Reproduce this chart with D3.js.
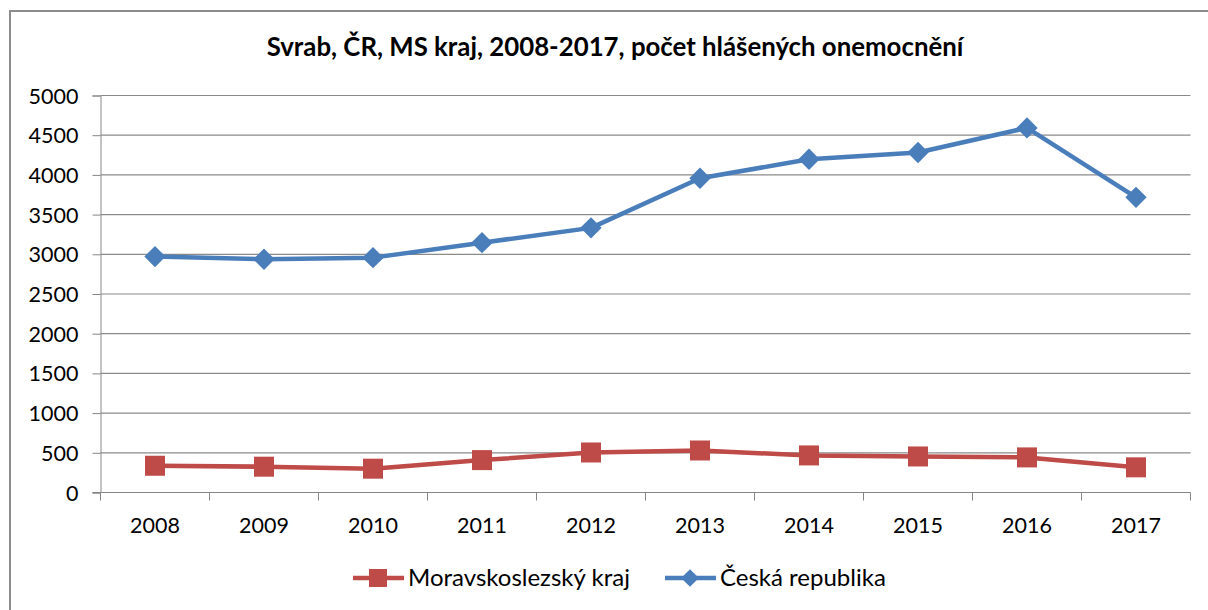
<!DOCTYPE html>
<html>
<head>
<meta charset="utf-8">
<title>Svrab</title>
<script src="https://d3js.org/d3.v7.min.js"></script>
<style>
  body { margin: 0; background: #fff; }
  svg text { font-family: Lato, "Noto Sans", sans-serif; fill: #000; }
</style>
</head>
<body>
<svg id="chart" width="1208" height="610"></svg>
<script>
// data
var years = ["2008", "2009", "2010", "2011", "2012", "2013", "2014", "2015", "2016", "2017"];
var msKraj = [337, 325, 300, 408, 504, 529, 467, 454, 442, 317];
var ceskaRep = [2971, 2938, 2958, 3146, 3333, 3958, 4197, 4282, 4592, 3718];
var yTicks = [0, 500, 1000, 1500, 2000, 2500, 3000, 3500, 4000, 4500, 5000];
var seriesNames = ["Moravskoslezský kraj", "Česká republika"];
var seriesColors = ["#be4b48", "#4a7ebb"];

var svg = d3.select("#chart");
var margin = {left: 100.5, right: 1190.5, top: 95.5, bottom: 492.5};

// outer frame (only top and left edges show)
svg.append("path")
    .attr("d", "M10,610 V11 H1208")
    .attr("fill", "none")
    .attr("stroke", "#8c8c8c")
    .attr("stroke-width", 2);

svg.append("text")
    .attr("x", 615).attr("y", 56)
    .attr("text-anchor", "middle")
    .style("font-size", "25.8px")
    .style("font-weight", "bold")
    .text("Svrab, ČR, MS kraj, 2008-2017, počet hlášených onemocnění");

var x = d3.scaleBand().domain(years).range([margin.left, margin.right]);
var y = d3.scaleLinear().domain([0, 5000]).range([margin.bottom, margin.top]);

// gridlines + y axis
var yAxis = svg.append("g")
    .attr("transform", "translate(" + margin.left + ",0)")
    .call(d3.axisLeft(y).tickValues(yTicks).tickSize(8).tickPadding(14)
      .tickFormat(d3.format("d")));
yAxis.select(".domain").attr("stroke", "#868686");
yAxis.selectAll(".tick line").attr("stroke", "#868686");
yAxis.selectAll(".tick text").style("font-size", "21.5px").attr("dy", "0.35em");

svg.append("g").selectAll("line")
    .data(yTicks.filter(function(d) { return d > 0; }))
    .enter().append("line")
    .attr("x1", margin.left).attr("x2", margin.right)
    .attr("y1", function(d) { return y(d); })
    .attr("y2", function(d) { return y(d); })
    .attr("stroke", "#8a8a8a")
    .attr("stroke-width", 1.2);

// x axis with ticks between categories
var xAxis = svg.append("g")
    .attr("transform", "translate(0," + margin.bottom + ")");
xAxis.append("line")
    .attr("x1", margin.left - 8).attr("x2", margin.right)
    .attr("stroke", "#868686");
xAxis.selectAll("line.tk")
    .data(years.concat(["end"]))
    .enter().append("line")
    .attr("class", "tk")
    .attr("x1", function(d, i) { return margin.left + i * x.step(); })
    .attr("x2", function(d, i) { return margin.left + i * x.step(); })
    .attr("y1", 0).attr("y2", 8)
    .attr("stroke", "#868686");
xAxis.selectAll("text")
    .data(years)
    .enter().append("text")
    .attr("x", function(d) { return x(d) + x.bandwidth() / 2; })
    .attr("y", 40)
    .attr("text-anchor", "middle")
    .style("font-size", "21.5px")
    .text(function(d) { return d; });

var cx = function(d, i) { return x(years[i]) + x.bandwidth() / 2; };
var line = d3.line()
    .x(function(d, i) { return cx(d, i); })
    .y(function(d) { return y(d); });

// MS kraj
svg.append("path")
    .datum(msKraj)
    .attr("d", line)
    .attr("fill", "none")
    .attr("stroke", seriesColors[0])
    .attr("stroke-width", 4.5)
    .attr("stroke-linejoin", "round");
svg.append("g").selectAll("rect")
    .data(msKraj)
    .enter().append("rect")
    .attr("x", function(d, i) { return cx(d, i) - 10; })
    .attr("y", function(d) { return y(d) - 10; })
    .attr("width", 20).attr("height", 20)
    .attr("fill", seriesColors[0]);

// Česká republika
var diamond = d3.symbol().type(d3.symbolDiamond2).size(290);
svg.append("path")
    .datum(ceskaRep)
    .attr("d", line)
    .attr("fill", "none")
    .attr("stroke", seriesColors[1])
    .attr("stroke-width", 4.5)
    .attr("stroke-linejoin", "round");
svg.append("g").selectAll("path")
    .data(ceskaRep)
    .enter().append("path")
    .attr("d", diamond)
    .attr("transform", function(d, i) { return "translate(" + cx(d, i) + "," + y(d) + ")"; })
    .attr("fill", seriesColors[1]);

// legend
var legend = svg.append("g");
var legX = [353, 665];
var legDiamond = d3.symbol().type(d3.symbolDiamond2).size(200);
seriesNames.forEach(function(name, i) {
  var g = legend.append("g").attr("transform", "translate(" + legX[i] + ",578)");
  g.append("line").attr("x1", 0).attr("x2", 51)
      .attr("stroke", seriesColors[i]).attr("stroke-width", 4.5);
  if (i === 0) {
    g.append("rect").attr("x", 16).attr("y", -9).attr("width", 18).attr("height", 18)
        .attr("fill", seriesColors[i]);
  } else {
    g.append("path").attr("d", legDiamond).attr("transform", "translate(25,0)")
        .attr("fill", seriesColors[i]);
  }
  g.append("text").attr("x", 55).attr("y", 0).attr("dy", "0.35em")
      .style("font-size", "24px")
      .text(name);
});
</script>
</body>
</html>
